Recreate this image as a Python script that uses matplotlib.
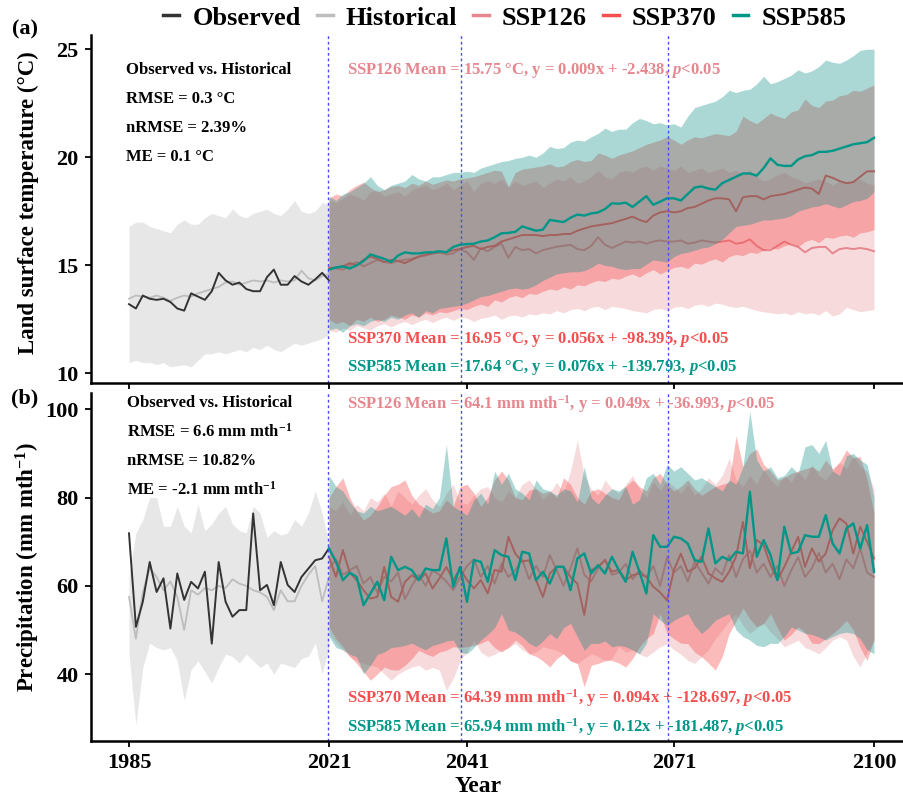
import numpy as np
import matplotlib
matplotlib.use('Agg')
import matplotlib.pyplot as plt
from matplotlib.lines import Line2D

plt.rcParams['font.family'] = ['Liberation Serif', 'DejaVu Serif']
plt.rcParams['font.weight'] = 'bold'
plt.rcParams['mathtext.fontset'] = 'custom'
plt.rcParams['mathtext.rm'] = 'Liberation Serif:bold'
plt.rcParams['mathtext.it'] = 'Liberation Serif:italic:bold'
plt.rcParams['mathtext.bf'] = 'Liberation Serif:bold'

# ---------------- data ----------------
tick_years = [1985, 2021, 2041, 2071, 2100]
hist_start, future_start, future_end = 1985, 2021, 2100
scenarios = ['SSP126', 'SSP370', 'SSP585']

# Panel (a) land surface temperature
obs_temp = [13.2, 13.0, 13.6, 13.45, 13.4, 13.45, 13.3, 13.0, 12.9, 13.7,
            13.55, 13.4, 13.8, 14.65, 14.3, 14.1, 14.2, 13.9, 13.8, 13.8,
            14.45, 14.8, 14.1, 14.1, 14.5, 14.25, 14.1, 14.35, 14.65, 14.3]
hist_temp = [13.45, 13.6, 13.55, 13.5, 13.6, 13.5, 13.35, 13.5, 13.6, 13.55,
             13.7, 13.8, 13.9, 14.0, 14.2, 14.25, 14.1, 14.2, 14.3, 14.25,
             14.3, 14.2, 14.3, 14.25, 14.3, 14.75, 14.4, 14.3, 14.5, 14.6]
hist_temp_lo = [10.5, 10.6, 10.5, 10.5, 10.4, 10.5, 10.3, 10.35, 10.4, 10.3,
                10.6, 10.9, 10.9, 11.0, 10.9, 11.0, 11.1, 11.0, 11.2, 11.1,
                11.3, 11.1, 11.0, 11.2, 11.4, 11.3, 11.4, 11.5, 11.6, 11.8]
hist_temp_hi = [16.8, 17.0, 17.0, 16.8, 16.7, 16.6, 16.5, 16.9, 17.1, 16.9,
                16.9, 17.2, 17.4, 17.3, 17.2, 17.6, 17.3, 17.2, 17.4, 17.5,
                17.6, 17.4, 17.3, 17.6, 18.0, 17.5, 17.4, 17.5, 17.9, 17.8]

ssp126_temp = [14.9, 14.85, 14.8, 15.0, 15.15, 14.95, 15.1, 15.25, 15.15, 15.1,
               15.2, 15.25, 15.3, 15.4, 15.45, 15.55, 15.6, 15.5, 15.55, 15.75,
               15.6, 15.25, 15.8, 15.65, 15.85, 16.0, 15.35, 15.85, 15.7, 15.75,
               15.55, 15.7, 15.78, 15.86, 15.9, 15.95, 15.75, 15.7, 15.9, 16.3,
               15.95, 15.8, 15.95, 16.1, 16.05, 16.1, 16.0, 16.1, 16.15, 16.1,
               16.1, 16.15, 16.0, 16.05, 16.15, 16.1, 16.05, 16.1, 16.15, 16.0,
               16.05, 16.2, 15.9, 15.7, 15.7, 15.9, 16.1, 15.95, 15.85, 15.6,
               15.8, 15.85, 15.85, 15.55, 15.75, 15.8, 15.75, 15.8, 15.75, 15.65]
ssp126_temp_lo = [12.0, 11.9, 12.1, 12.0, 12.2, 12.1, 12.0, 12.2, 12.3, 12.15,
                  12.3, 12.4, 12.25, 12.4, 12.5, 12.35, 12.5, 12.6, 12.45, 12.6,
                  12.55, 12.4, 12.55, 12.6, 12.7, 12.5, 12.65, 12.7, 12.6, 12.75,
                  12.7, 12.8, 12.75, 12.9, 12.8, 12.95, 13.0, 12.9, 13.05, 13.1,
                  12.95, 13.1, 13.05, 13.0, 12.9, 12.85, 12.8, 12.95, 13.0, 12.9,
                  13.05, 13.1, 13.0, 13.15, 13.2, 13.1, 13.25, 13.2, 13.1, 13.05,
                  13.1, 13.0, 12.9, 12.85, 12.8, 12.75, 12.8, 12.7, 12.85, 12.75,
                  12.8, 12.7, 12.9, 12.65, 12.75, 13.05, 12.95, 12.85, 12.9, 12.95]
ssp126_temp_hi = [18.0, 17.9, 18.1, 18.3, 18.2, 18.0, 18.4, 18.5, 18.2, 18.3,
                  18.4, 18.2, 18.5, 18.6, 18.7, 18.5, 18.6, 18.8, 18.5, 18.7,
                  18.9, 18.4, 18.8, 18.9, 18.8, 19.0, 18.6, 18.9, 18.7, 18.8,
                  18.9, 18.6, 18.8, 19.0, 18.9, 19.1, 18.8, 18.9, 19.1, 19.4,
                  19.1, 19.0, 19.3, 19.4, 19.3, 19.5, 19.6, 19.4, 19.6, 19.5,
                  19.4, 19.6, 19.3, 19.4, 19.5, 19.3, 19.4, 19.5, 19.3, 19.4,
                  19.2, 19.4, 19.1, 18.9, 19.0, 19.2, 19.3, 19.1, 19.0, 18.8,
                  18.9, 19.0, 18.9, 18.7, 18.9, 18.8, 18.9, 19.0, 18.8, 18.7]

ssp370_temp = [14.85, 14.9, 14.95, 15.1, 15.0, 15.25, 15.4, 15.3, 15.15, 15.25,
               15.2, 15.1, 15.25, 15.4, 15.5, 15.55, 15.6, 15.6, 15.7, 15.75,
               15.85, 15.9, 15.75, 15.85, 15.9, 16.1, 16.2, 16.3, 16.4, 16.4,
               16.4, 16.35, 16.4, 16.4, 16.45, 16.45, 16.6, 16.7, 16.8, 16.85,
               16.9, 16.95, 17.05, 17.15, 17.25, 17.1, 17.0, 17.3, 17.45, 17.5,
               17.45, 17.5, 17.65, 17.7, 17.85, 18.0, 18.1, 18.1, 18.05, 17.5,
               18.15, 18.2, 18.2, 18.05, 18.2, 18.25, 18.3, 18.4, 18.5, 18.6,
               18.55, 18.3, 19.15, 19.05, 18.9, 18.8, 18.85, 19.1, 19.35, 19.35]
ssp370_temp_lo = [12.5, 12.3, 12.4, 12.2, 12.5, 12.4, 12.6, 12.4, 12.5, 12.7,
                  12.6, 12.5, 12.7, 12.6, 12.8, 12.7, 12.85, 12.8, 12.9, 13.0,
                  12.95, 13.1, 13.2, 13.1, 13.4, 13.3, 13.5, 13.6, 13.5, 13.7,
                  13.65, 13.8, 13.9, 13.85, 14.0, 13.9, 14.1, 14.05, 14.2, 14.3,
                  14.25, 14.4, 14.35, 14.5, 14.6, 14.45, 14.65, 14.8, 14.6, 14.75,
                  14.9, 14.95, 14.85, 15.1, 15.05, 15.2, 15.3, 15.15, 15.4, 15.5,
                  15.45, 15.6, 15.55, 15.7, 15.8, 15.75, 15.9, 16.0, 15.85, 16.1,
                  16.2, 16.05, 16.3, 16.25, 16.35, 16.4, 16.3, 16.5, 16.55, 16.65]
ssp370_temp_hi = [18.1, 18.3, 18.2, 18.5, 18.7, 18.85, 18.6, 18.4, 18.5, 18.65,
                  18.7, 18.6, 18.8, 18.7, 18.9, 18.75, 18.85, 18.95, 18.9, 19.0,
                  19.05, 19.1, 19.2, 19.3, 19.4, 19.35, 18.65, 19.3, 19.45, 19.5,
                  19.55, 19.6, 19.7, 19.55, 19.6, 19.8, 19.9, 19.8, 19.85, 20.2,
                  20.1, 19.95, 20.1, 20.2, 20.3, 20.45, 20.6, 20.7, 20.8, 20.95,
                  20.8, 20.6, 20.8, 20.95, 20.9, 21.0, 21.1, 21.05, 21.0, 21.2,
                  21.9, 21.7, 21.55, 21.8, 22.05, 21.9, 21.8, 22.1, 22.2, 22.7,
                  22.4, 22.3, 22.6, 22.65, 22.85, 22.9, 23.1, 23.05, 23.2, 23.35]

ssp585_temp = [14.8, 14.9, 14.95, 14.85, 15.0, 15.2, 15.5, 15.4, 15.3, 15.15,
               15.45, 15.6, 15.55, 15.55, 15.6, 15.6, 15.65, 15.6, 15.85, 15.95,
               15.98, 16.0, 16.1, 16.15, 16.3, 16.48, 16.5, 16.55, 16.8, 16.7,
               16.6, 16.65, 17.1, 17.05, 17.0, 17.2, 17.35, 17.3, 17.4, 17.45,
               17.6, 17.87, 17.85, 17.9, 17.7, 17.95, 18.2, 17.8, 17.95, 18.1,
               18.1, 18.0, 18.3, 18.6, 18.65, 18.55, 18.5, 18.8, 18.95, 19.1,
               19.25, 19.25, 19.15, 19.5, 19.95, 19.65, 19.6, 19.6, 19.9, 20.05,
               20.1, 20.25, 20.25, 20.3, 20.4, 20.5, 20.6, 20.65, 20.7, 20.9]
ssp585_temp_lo = [12.0, 12.1, 11.9, 12.2, 12.3, 12.2, 12.4, 12.5, 12.4, 12.6,
                  12.5, 12.7, 12.8, 12.6, 12.9, 12.8, 13.0, 13.05, 13.1, 13.15,
                  13.25, 13.4, 13.55, 13.6, 13.7, 13.8, 13.9, 13.95, 13.9, 13.95,
                  14.1, 14.3, 14.45, 14.6, 14.65, 14.7, 14.7, 14.75, 14.9, 15.1,
                  15.0, 14.95, 14.85, 14.8, 14.85, 14.85, 15.05, 15.25, 15.2, 15.15,
                  15.4, 15.55, 15.6, 15.7, 15.8, 15.85, 16.0, 16.2, 16.5, 16.8,
                  16.85, 16.9, 17.0, 17.1, 17.1, 17.15, 17.2, 17.3, 17.5, 17.6,
                  17.7, 17.75, 17.85, 17.75, 17.65, 17.8, 17.95, 18.0, 18.1, 18.4]
ssp585_temp_hi = [18.2, 18.0, 18.3, 18.4, 18.6, 18.8, 19.1, 18.7, 18.5, 18.7,
                  18.8, 18.9, 19.2, 19.0, 18.9, 19.1, 19.1, 19.2, 19.3, 19.3,
                  19.35, 19.3, 19.5, 19.6, 19.7, 19.8, 19.85, 19.95, 20.0, 20.1,
                  20.0, 20.2, 20.5, 20.4, 20.45, 20.7, 20.8, 20.75, 20.95, 21.1,
                  21.35, 21.2, 21.3, 21.3, 21.6, 21.8, 21.7, 21.55, 21.6, 21.5,
                  21.55, 21.4, 21.9, 22.3, 22.4, 22.5, 22.6, 22.8, 23.1, 23.0,
                  23.1, 23.15, 23.4, 23.75, 23.4, 23.5, 23.65, 23.8, 24.05, 23.9,
                  24.0, 24.2, 24.5, 24.4, 24.35, 24.5, 24.7, 24.95, 25.0, 25.0]

# Panel (b) precipitation
obs_prec = [71.9, 50.7, 56.4, 65.4, 58.6, 61.7, 50.3, 62.8, 56.8, 60.9,
            59.4, 63.2, 46.9, 65.4, 56.4, 53.0, 54.5, 54.5, 76.4, 59.0,
            60.2, 55.6, 65.4, 60.2, 58.6, 62.0, 63.9, 65.8, 66.2, 68.5]
hist_prec = [57.5, 48.0, 58.5, 64.0, 62.0, 59.0, 61.0, 57.5, 50.0, 59.0,
             58.0, 59.5, 59.0, 60.0, 59.5, 61.5, 60.5, 60.0, 59.0, 58.5,
             57.5, 54.5, 59.0, 56.5, 56.5, 60.0, 62.5, 64.5, 56.5, 62.0]
hist_prec_lo = [44.5, 28.5, 41.5, 47.0, 46.0, 45.5, 46.0, 43.0, 34.0, 41.0,
                43.0, 40.5, 38.0, 41.5, 44.5, 44.0, 42.5, 44.5, 43.0, 41.5,
                42.5, 40.0, 42.5, 42.0, 41.5, 43.5, 44.0, 47.0, 40.0, 46.0]
hist_prec_hi = [62.5, 72.0, 75.0, 80.0, 80.0, 73.5, 73.5, 78.0, 73.5, 72.0,
                78.5, 72.5, 74.0, 76.5, 78.0, 74.0, 72.5, 72.0, 78.0, 76.5,
                71.0, 72.5, 71.5, 72.0, 75.0, 73.5, 76.5, 81.5, 76.5, 69.5]

ssp126_prec = [64.0, 66.0, 62.5, 63.5, 64.5, 60.5, 62.0, 58.5, 62.0, 61.0,
               63.0, 57.0, 60.0, 62.5, 60.0, 63.5, 62.5, 61.0, 59.0, 62.0,
               64.5, 66.0, 62.0, 64.5, 60.5, 65.0, 62.0, 63.5, 66.0, 61.5,
               64.5, 62.0, 67.0, 63.5, 60.0, 64.0, 68.5, 62.5, 61.0, 64.0,
               66.0, 62.5, 63.0, 65.0, 61.5, 63.5, 62.0, 64.5, 60.0, 66.5,
               63.0, 64.5, 61.0, 65.5, 63.0, 60.5, 64.0, 62.5, 67.0, 62.0,
               66.0, 68.0, 63.0, 65.0, 62.0, 64.5, 60.0, 63.5, 66.5, 62.0,
               64.0, 67.5, 63.0, 65.0, 61.5, 66.0, 64.0, 68.5, 63.0, 62.0]
ssp126_prec_lo = [49.0, 47.0, 45.4, 44.0, 43.0, 42.4, 42.0, 41.6, 40.0, 38.6,
                  40.0, 40.9, 41.6, 42.0, 40.9, 41.5, 40.9, 36.3, 39.0, 43.1,
                  45.0, 47.7, 45.0, 43.9, 44.5, 45.4, 46.0, 46.9, 45.5, 44.6,
                  45.0, 46.2, 45.8, 45.4, 44.5, 43.0, 42.4, 43.5, 44.6, 44.0,
                  43.1, 43.5, 46.2, 45.0, 45.4, 44.5, 43.9, 45.0, 46.2, 46.9,
                  45.5, 44.5, 43.1, 42.4, 44.0, 45.5, 48.0, 50.0, 52.0, 53.7,
                  51.0, 49.2, 50.5, 51.5, 49.5, 48.0, 46.2, 46.9, 47.7, 46.0,
                  45.4, 44.6, 46.0, 47.7, 48.5, 47.7, 44.0, 41.6, 45.0, 47.7]
ssp126_prec_hi = [78.0, 77.0, 79.0, 76.0, 78.5, 77.0, 80.0, 79.0, 81.0, 78.0,
                  81.5, 80.0, 78.5, 80.5, 82.0, 79.5, 78.0, 81.0, 83.0, 79.0,
                  78.5, 80.5, 82.0, 82.5, 80.0, 79.0, 81.5, 80.0, 83.0, 84.0,
                  82.0, 79.5, 81.0, 83.5, 81.0, 86.0, 93.0, 85.0, 82.0, 80.5,
                  84.0, 82.0, 81.0, 83.0, 85.0, 82.0, 80.0, 83.5, 81.5, 84.0,
                  82.5, 81.0, 83.0, 80.5, 82.0, 84.5, 83.0, 85.0, 89.0, 84.0,
                  82.5, 85.0, 83.0, 86.5, 84.0, 82.5, 85.0, 83.5, 86.0, 84.0,
                  87.5, 85.0, 84.0, 86.0, 88.0, 86.5, 89.5, 87.0, 86.0, 82.0]

ssp370_prec = [66.5, 62.0, 68.1, 63.0, 61.3, 59.0, 57.1, 57.5, 64.3, 57.5,
               56.4, 60.9, 62.4, 61.3, 62.8, 59.4, 61.7, 64.3, 61.3, 63.9,
               61.3, 59.4, 61.3, 58.3, 63.6, 63.2, 71.1, 67.3, 65.5, 65.8,
               61.3, 57.5, 62.8, 64.3, 64.3, 62.0, 60.5, 53.4, 63.6, 64.3,
               65.8, 63.2, 63.6, 61.3, 62.4, 62.8, 62.0, 59.8, 58.5, 56.7,
               63.6, 67.3, 63.2, 64.0, 66.6, 62.8, 61.7, 60.9, 63.2, 66.6,
               74.5, 64.0, 70.4, 69.2, 64.7, 61.3, 64.3, 67.7, 71.1, 64.3,
               68.5, 65.5, 67.3, 72.6, 75.3, 74.1, 67.3, 73.4, 70.0, 66.2]
ssp370_prec_lo = [50.7, 48.0, 46.2, 44.0, 42.4, 40.5, 38.6, 40.0, 41.6, 41.0,
                  40.9, 42.0, 43.5, 45.4, 44.6, 44.0, 45.0, 45.4, 46.2, 46.0,
                  46.2, 46.5, 47.0, 47.7, 46.0, 45.0, 46.0, 47.7, 46.5, 44.6,
                  44.0, 43.0, 41.6, 43.5, 44.6, 43.0, 42.4, 37.1, 42.0, 42.4,
                  43.0, 43.1, 42.5, 41.6, 43.5, 46.2, 48.0, 49.2, 53.7, 49.2,
                  48.0, 47.0, 46.9, 45.0, 43.9, 42.5, 40.9, 44.0, 49.2, 52.0,
                  55.0, 52.5, 50.7, 51.5, 53.7, 50.5, 47.7, 49.0, 50.7, 49.5,
                  47.0, 46.9, 48.0, 49.2, 50.5, 52.2, 50.0, 46.0, 43.1, 47.7]
ssp370_prec_hi = [80.0, 82.5, 84.5, 80.0, 77.0, 74.9, 76.0, 78.0, 80.5, 82.5,
                  83.0, 84.0, 80.5, 78.5, 77.5, 76.5, 77.0, 79.5, 78.0, 82.5,
                  83.0, 81.0, 78.0, 80.0, 84.0, 86.0, 84.0, 80.0, 79.5, 81.7,
                  82.0, 81.0, 81.5, 80.0, 84.5, 83.0, 80.0, 78.5, 81.5, 82.0,
                  81.0, 80.0, 79.5, 82.5, 84.0, 82.5, 81.5, 84.5, 85.5, 83.0,
                  81.5, 82.5, 84.0, 82.0, 80.5, 81.5, 82.5, 83.0, 83.5, 94.0,
                  87.0, 90.0, 91.0, 87.5, 86.0, 84.0, 84.5, 85.5, 86.0, 86.5,
                  87.0, 86.0, 88.5, 86.5, 88.0, 90.8, 89.0, 89.3, 84.0, 76.5]

ssp585_prec = [68.47, 65.45, 61.29, 62.95, 62.04, 55.62, 58.27, 60.91, 56.75, 66.58,
               63.56, 64.31, 63.56, 61.29, 63.93, 63.56, 63.56, 70.74, 59.78, 64.31,
               56.37, 65.82, 65.45, 60.91, 68.09, 66.96, 66.58, 61.29, 67.71, 67.34,
               61.29, 63.18, 60.53, 64.31, 64.31, 59.02, 66.2, 67.34, 62.8, 64.69,
               62.8, 66.58, 63.56, 60.91, 67.71, 63.18, 58.27, 71.49, 68.85, 68.85,
               71.12, 70.74, 69.6, 65.82, 65.45, 73.0, 65.07, 66.58, 65.82, 67.71,
               67.34, 81.32, 66.58, 70.36, 66.96, 61.29, 73.38, 67.34, 67.71, 71.49,
               71.12, 71.12, 76.03, 69.6, 67.34, 73.0, 74.14, 68.47, 73.76, 63.18]
ssp585_prec_lo = [48.5, 46.0, 45.5, 44.5, 43.9, 40.1, 42.0, 44.5, 45.0, 46.0,
                  46.2, 46.5, 47.0, 46.2, 45.5, 46.5, 46.9, 47.5, 47.7, 45.0,
                  44.6, 46.0, 47.7, 49.0, 50.5, 53.7, 50.0, 49.5, 48.4, 47.0,
                  46.2, 47.5, 49.2, 48.0, 50.5, 51.5, 48.5, 45.4, 47.0, 46.9,
                  47.5, 46.2, 46.5, 46.2, 45.5, 44.6, 47.0, 53.7, 52.2, 51.0,
                  52.2, 53.0, 53.7, 51.0, 49.2, 50.5, 52.2, 53.0, 53.7, 50.0,
                  48.5, 47.7, 46.5, 46.2, 47.0, 46.9, 48.5, 50.7, 50.0, 49.2,
                  49.0, 48.4, 47.7, 48.5, 49.2, 49.5, 49.2, 48.0, 45.5, 44.6]
ssp585_prec_hi = [85.0, 82.5, 81.5, 79.0, 77.0, 76.5, 78.0, 77.0, 77.5, 78.0,
                  77.0, 76.0, 77.5, 75.5, 78.5, 77.5, 80.0, 92.0, 78.0, 77.0,
                  76.0, 79.5, 81.0, 78.5, 86.0, 83.0, 85.5, 82.0, 81.0, 79.5,
                  84.0, 82.0, 81.5, 80.5, 82.0, 81.5, 79.0, 87.0, 80.0, 78.5,
                  80.5, 82.0, 81.5, 82.5, 78.5, 79.5, 84.5, 85.5, 83.0, 87.5,
                  86.0, 87.0, 85.5, 84.0, 84.5, 83.5, 82.5, 81.5, 84.0, 83.0,
                  87.0, 99.5, 88.5, 86.0, 87.0, 84.5, 85.0, 87.0, 85.5, 91.5,
                  92.0, 90.0, 93.0, 86.0, 85.0, 89.5, 90.0, 88.5, 87.5, 80.0]

temp_stats = ['Observed vs. Historical', 'RMSE = 0.3 °C', 'nRMSE = 2.39%', 'ME = 0.1 °C']
prec_stats = ['Observed vs. Historical', 'RMSE = 6.6 mm mth$^{-1}$',
              'nRMSE = 10.82%', 'ME = -2.1 mm mth$^{-1}$']
temp_trend = {
    'SSP126': 'SSP126 Mean = 15.75 °C, y = 0.009x + -2.438, $p$<0.05',
    'SSP370': 'SSP370 Mean = 16.95 °C, y = 0.056x + -98.395, $p$<0.05',
    'SSP585': 'SSP585 Mean = 17.64 °C, y = 0.076x + -139.793, $p$<0.05',
}
prec_trend = {
    'SSP126': 'SSP126 Mean = 64.1 mm mth$^{-1}$, y = 0.049x + -36.993, $p$<0.05',
    'SSP370': 'SSP370 Mean = 64.39 mm mth$^{-1}$, y = 0.094x + -128.697, $p$<0.05',
    'SSP585': 'SSP585 Mean = 65.94 mm mth$^{-1}$, y = 0.12x + -181.487, $p$<0.05',
}

# ---------------- style ----------------
colors = {'Observed': '#333333', 'Historical': '#bdbdbd',
          'SSP126': '#E6868E', 'SSP370': '#F54E4E', 'SSP585': '#009688'}
fill_colors = {'SSP126': '#E6868E', 'SSP370': '#F54E4E', 'SSP585': '#008B82'}
fill_alpha = {'SSP126': 0.30, 'SSP370': 0.38, 'SSP585': 0.33}

W, H = 904, 799
fig = plt.figure(figsize=(W / 100, H / 100), dpi=100)

def fbox(l, t, r, b):
    return [l / W, 1 - b / H, (r - l) / W, (b - t) / H]

ax_a = fig.add_axes(fbox(91, 35, 904, 382.5))
ax_b = fig.add_axes(fbox(91, 393, 904, 740.7))

n_hist = len(obs_temp)
hist_x = np.arange(n_hist)
fut_years = np.arange(future_start, future_end + 1)
fut_x = (n_hist - 1) + (fut_years - future_start)

def year_pos(y):
    return 0 if y == hist_start else (n_hist - 1) + (y - future_start)

tick_pos = [year_pos(y) for y in tick_years]
vline_pos = [28.85, 48.1, 78.1]

def draw_panel(ax, obs, hist, hlo, hhi, scen):
    z = 1
    ax.fill_between(hist_x, hlo, hhi, color='#d0d0d0', alpha=0.5, lw=0, zorder=z)
    ax.plot(hist_x, hist, color=colors['Historical'], lw=1.3, zorder=z + 1)
    ax.plot(hist_x, obs, color=colors['Observed'], lw=1.4, zorder=z + 2)
    z = 4
    for s in scenarios:
        m, lo, hi = scen[s]
        ax.fill_between(fut_x, lo, hi, color=fill_colors[s], alpha=fill_alpha[s],
                        lw=0, zorder=z)
        ax.plot(fut_x, m, color=colors[s], lw=1.4 if s != 'SSP585' else 1.7,
                zorder=z + 1)
        z += 2
    for v in vline_pos:
        ax.axvline(v, color='#4a4aff', lw=1.0, ls=(0, (2, 2)), zorder=20)
    ax.set_xlim(-5.51, 112.35)
    ax.set_xticks(tick_pos)
    for sp in ['top', 'right']:
        ax.spines[sp].set_visible(False)
    for sp in ['left', 'bottom']:
        ax.spines[sp].set_linewidth(1.8)
        ax.spines[sp].set_zorder(25)
    ax.tick_params(direction='out', length=4, width=1.3, labelsize=16, pad=5)

draw_panel(ax_a, obs_temp, hist_temp, hist_temp_lo, hist_temp_hi,
           {'SSP126': (ssp126_temp, ssp126_temp_lo, ssp126_temp_hi),
            'SSP370': (ssp370_temp, ssp370_temp_lo, ssp370_temp_hi),
            'SSP585': (ssp585_temp, ssp585_temp_lo, ssp585_temp_hi)})
ax_a.set_ylim(9.574, 25.66)
ax_a.set_yticks([10, 15, 20, 25])
ax_a.set_xticklabels([])

draw_panel(ax_b, obs_prec, hist_prec, hist_prec_lo, hist_prec_hi,
           {'SSP126': (ssp126_prec, ssp126_prec_lo, ssp126_prec_hi),
            'SSP370': (ssp370_prec, ssp370_prec_lo, ssp370_prec_hi),
            'SSP585': (ssp585_prec, ssp585_prec_lo, ssp585_prec_hi)})
ax_b.set_ylim(24.9, 103.7)
ax_b.set_yticks([40, 60, 80, 100])
ax_b.set_xticklabels([str(y) for y in tick_years])

def ftext(x, y, s, **kw):
    kw.setdefault('va', 'center')
    kw.setdefault('fontweight', 'bold')
    fig.text(x / W, 1 - y / H, s, **kw)

# stats annotations
for i, s in enumerate(temp_stats):
    ftext(126, 70 + 29 * i, s, fontsize=12, color='black')
for i, s in enumerate(prec_stats):
    ftext(127, 403 + 29 * i, s, fontsize=12, color='black')
for s, y in zip(scenarios, [70, 340, 368]):
    ftext(347, y, temp_trend[s], fontsize=12, color=colors[s])
for s, y in zip(scenarios, [404, 698, 727]):
    ftext(347, y, prec_trend[s], fontsize=12, color=colors[s])

# labels
ftext(25, 29, '(a)', fontsize=16, ha='center')
ftext(25, 398, '(b)', fontsize=16, ha='center')
ftext(28, 203, 'Land surface temperature (°C)', fontsize=16.5, ha='center', rotation=90)
ftext(28, 567, 'Precipitation (mm mth$^{-1}$)', fontsize=16.5, ha='center', rotation=90)
ftext(478, 787, 'Year', fontsize=17, ha='center')

# legend
labels = ['Observed', 'Historical'] + scenarios
handles = [Line2D([], [], color=colors[k], lw=2.5) for k in labels]
fig.legend(handles, labels, loc='center', bbox_to_anchor=(505 / W, 1 - 18 / H),
           ncol=5, frameon=False, prop={'weight': 'bold', 'size': 19},
           handlelength=0.6, handletextpad=0.5, columnspacing=0.6, borderaxespad=0)

fig.savefig('out.png', dpi=100)
